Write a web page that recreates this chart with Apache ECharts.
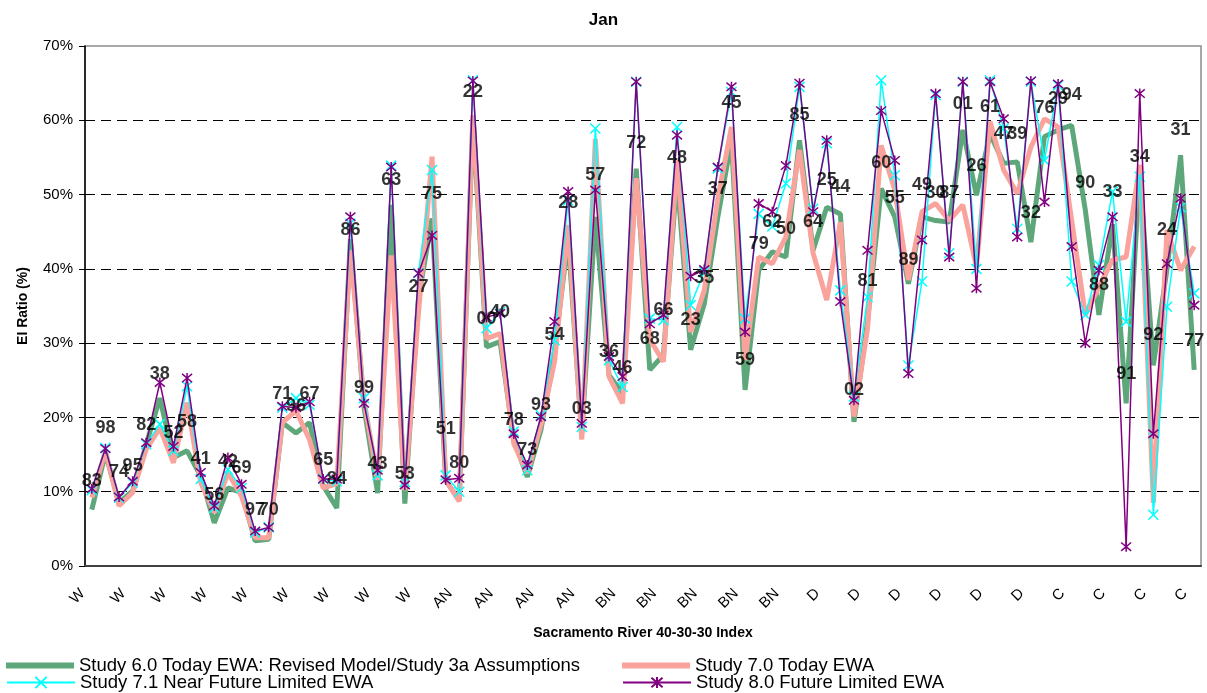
<!DOCTYPE html>
<html>
<head>
<meta charset="utf-8">
<script src="https://cdn.jsdelivr.net/npm/echarts@6/dist/echarts.min.js"></script>
<style>
html,body{margin:0;padding:0;background:#fff;}
#chart{width:1207px;height:693px;}
</style>
</head>
<body>
<div id="chart"></div>
<script>
// Water year type of each category (Sacramento River 40-30-30 Index)
const yearTypes = [].concat(
  Array(26).fill('W'), Array(12).fill('AN'), Array(14).fill('BN'),
  Array(18).fill('D'), Array(12).fill('C'));

// Year labels (last two digits) for each category
const yearLabels = ['83','98','74','95','82','38','52','58','41','56','42','69','97','70','71','96','67','65','84','86',
  '99','43','63','53','27','75','51','80','22','00','40','78','73','93','54','28','03','57','36','46',
  '72','68','66','48','23','35','37','45','59','79','62','50','85','64','25','44','02','81','60','55',
  '89','49','30','87','01','26','61','47','39','32','76','29','94','90','88','33','91','34','92','24','31','77'];

// EI ratio (%) per study
const study60 = [7.6,15.2,8.5,10.1,16.4,22.6,14.6,15.5,12.1,5.8,
  10.5,9.9,3.4,3.6,19.3,17.9,19.3,10.8,7.8,44.0,
  21.4,9.8,48.6,8.4,36.0,46.8,11.5,8.9,60.0,29.5,
  30.2,17.0,12.0,18.3,29.0,44.0,17.8,47.0,25.7,23.2,
  53.5,26.4,28.4,52.4,29.1,35.3,47.0,57.3,23.7,39.8,
  42.3,41.6,57.3,42.5,48.3,47.4,19.4,33.0,50.8,47.0,
  38.0,47.0,46.5,46.3,58.7,49.9,58.2,54.2,54.4,43.6,
  57.8,58.7,59.3,47.9,33.8,46.0,21.9,53.0,27.0,40.0,
  55.3,26.4];
const study70 = [9.2,15.5,8.1,9.9,15.7,18.6,13.9,22.0,11.2,7.2,
  12.6,9.4,3.8,3.8,19.3,20.9,17.0,10.5,11.1,42.5,
  22.3,11.6,41.8,10.2,34.0,55.1,11.6,8.7,60.7,30.6,
  31.3,16.5,12.5,19.0,27.5,45.9,17.0,57.5,25.5,21.9,
  52.2,30.5,27.5,54.6,31.5,37.1,49.5,59.1,27.7,41.6,
  40.7,44.3,56.0,42.1,35.8,46.3,20.1,32.0,56.6,50.6,
  38.5,47.7,48.8,46.5,48.6,40.3,59.8,53.3,50.1,56.4,
  60.2,59.1,46.5,33.8,37.6,41.2,41.6,54.0,8.5,45.2,
  39.8,43.0];
const study71 = [10.2,15.9,9.2,11.2,16.4,19.1,15.5,24.2,11.7,7.8,
  13.0,10.5,4.5,5.2,21.3,22.6,21.7,11.7,11.4,46.1,
  22.6,12.2,53.9,11.3,39.4,53.3,12.2,10.0,65.4,32.0,
  34.2,18.1,12.9,20.3,30.4,49.2,18.7,58.9,27.7,24.1,
  65.2,33.3,33.1,59.1,35.1,39.6,53.5,63.8,33.3,47.4,
  45.7,51.5,64.5,48.1,56.9,37.1,22.8,36.2,65.4,52.6,
  27.0,38.3,63.4,42.1,65.2,40.0,65.4,58.9,45.4,65.2,
  54.6,64.7,38.3,33.8,40.5,50.4,32.9,52.4,6.9,34.9,
  48.3,36.7];
const study80 = [10.4,15.8,9.3,11.4,16.6,24.7,16.1,25.3,12.6,8.1,
  14.6,11.0,4.7,5.2,21.5,21.3,22.1,11.7,11.7,47.0,
  21.9,12.9,53.7,10.9,39.4,44.5,11.6,11.8,65.3,33.5,
  34.0,17.8,13.6,20.1,32.9,50.4,19.2,50.6,28.2,25.5,
  65.2,32.6,33.8,58.0,39.0,39.9,53.7,64.5,31.5,48.8,
  47.7,53.9,65.0,47.7,57.3,35.6,22.3,42.5,61.3,54.6,
  25.9,43.9,63.6,41.6,65.2,37.4,65.2,60.2,44.3,65.3,
  49.0,64.9,43.0,30.0,39.8,47.0,2.6,63.6,17.8,40.7,
  49.5,35.1];
// Height (%) at which each year label sits
const labelLevel = [11.5,18.6,12.6,13.5,19.0,25.9,17.9,19.4,14.4,9.6,
  14.0,13.2,7.6,7.6,23.1,21.6,23.1,14.3,11.7,45.2,
  23.9,13.7,51.9,12.4,37.6,50.1,18.5,13.8,63.8,33.3,
  34.2,19.7,15.6,21.7,31.1,48.9,21.1,52.6,28.8,26.6,
  56.9,30.5,34.5,54.9,33.1,38.7,50.8,62.3,27.7,43.4,
  46.3,45.4,60.7,46.3,51.9,51.0,23.7,38.3,54.2,49.5,
  41.2,51.3,50.2,50.2,62.2,53.9,61.8,58.1,58.1,47.5,
  61.7,62.9,63.4,51.6,37.8,50.4,25.8,55.1,31.1,45.2,
  58.7,30.3];
const yTicks = [0,10,20,30,40,50,60,70];

const S60 = 'Study 6.0 Today EWA: Revised Model/Study 3a Assumptions';
const S70 = 'Study 7.0 Today EWA';
const S71 = 'Study 7.1 Near Future Limited EWA';
const S80 = 'Study 8.0 Future Limited EWA';

const FONT = 'Liberation Sans, Arial, sans-serif';
const chart = echarts.init(document.getElementById('chart'), null, {renderer:'canvas'});
const xMark = 'path://M0,0L10,10M10,0L0,10';
const starMark = 'path://M0,0L10,10M10,0L0,10M5,-1L5,11';
const legText = {fontFamily:FONT,fontSize:18.5,color:'#000'};

function leg(name, left, top, thick){
  return {data:[thick ? {name:name, icon:'rect'} : name], left:left, top:top,
    itemWidth:68, itemHeight: thick ? 6 : 14, itemGap:0, padding:0, textStyle:legText};
}

chart.setOption({
  animation:false,
  backgroundColor:'#fff',
  textStyle:{fontFamily:FONT},
  title:{text:'Jan',left:'center',top:7,textStyle:{fontFamily:FONT,fontSize:17,fontWeight:'bold',color:'#000'}},
  grid:{left:85,right:6,top:46,bottom:127,show:true,borderColor:'#8c8c8c',borderWidth:1.5,backgroundColor:'#fff'},
  legend:[
    leg(S60, 6, 656, true),
    leg(S71, 6, 673, false),
    leg(S70, 622, 656, true),
    leg(S80, 622, 673, false)
  ],
  xAxis:{
    type:'category',data:yearTypes,boundaryGap:true,
    name:'Sacramento River 40-30-30 Index',nameLocation:'middle',nameGap:60,
    nameTextStyle:{fontFamily:FONT,fontSize:14,fontWeight:'bold',color:'#000'},
    axisLine:{lineStyle:{color:'#404040',width:2}},
    axisTick:{interval:0,length:5,lineStyle:{color:'#404040',width:1}},
    axisLabel:{interval:2,rotate:45,fontSize:15,color:'#000',margin:16,padding:[0,13,0,0],fontFamily:FONT},
    splitLine:{show:false}
  },
  yAxis:{
    type:'value',min:yTicks[0],max:yTicks[yTicks.length-1],interval:10,
    name:'EI Ratio (%)',nameLocation:'middle',nameGap:55,nameRotate:90,
    nameTextStyle:{fontFamily:FONT,fontSize:14,fontWeight:'bold',color:'#000'},
    axisLine:{show:true,lineStyle:{color:'#000',width:1.5}},
    axisTick:{show:true,length:6,lineStyle:{color:'#000'}},
    axisLabel:{formatter:'{value}%',fontSize:15,color:'#000',margin:12,fontFamily:FONT},
    splitLine:{show:true,lineStyle:{color:['#000','#000','#000','#000','#000','#000','#000','transparent'],type:[10,6],width:1}}
  },
  series:[
    {name:S60,type:'line',data:study60,
     symbol:'none',lineStyle:{color:'#5DA77B',width:5},itemStyle:{color:'#5DA77B'},z:2},
    {name:S70,type:'line',data:study70,
     symbol:'none',lineStyle:{color:'#F9A39C',width:5},itemStyle:{color:'#F9A39C'},z:3},
    {name:S71,type:'line',data:study71,
     symbol:xMark,symbolSize:10,showAllSymbol:true,
     lineStyle:{color:'#00FFFF',width:1.5},itemStyle:{color:'#00FFFF',borderColor:'#00FFFF',borderWidth:1.5},z:4},
    {name:S80,type:'line',data:study80,
     symbol:starMark,symbolSize:10,showAllSymbol:true,
     lineStyle:{color:'#800080',width:1.5},itemStyle:{color:'#800080',borderColor:'#800080',borderWidth:1.5},z:5},
    {name:'yearLabels',type:'scatter',data:labelLevel,symbolSize:1,silent:true,
     itemStyle:{color:'rgba(0,0,0,0)'},z:10,
     label:{show:true,position:'inside',fontFamily:FONT,fontSize:18,fontWeight:'bold',color:'#000',
       formatter:function(p){return yearLabels[p.dataIndex];}}}
  ]
});
</script>
</body>
</html>
